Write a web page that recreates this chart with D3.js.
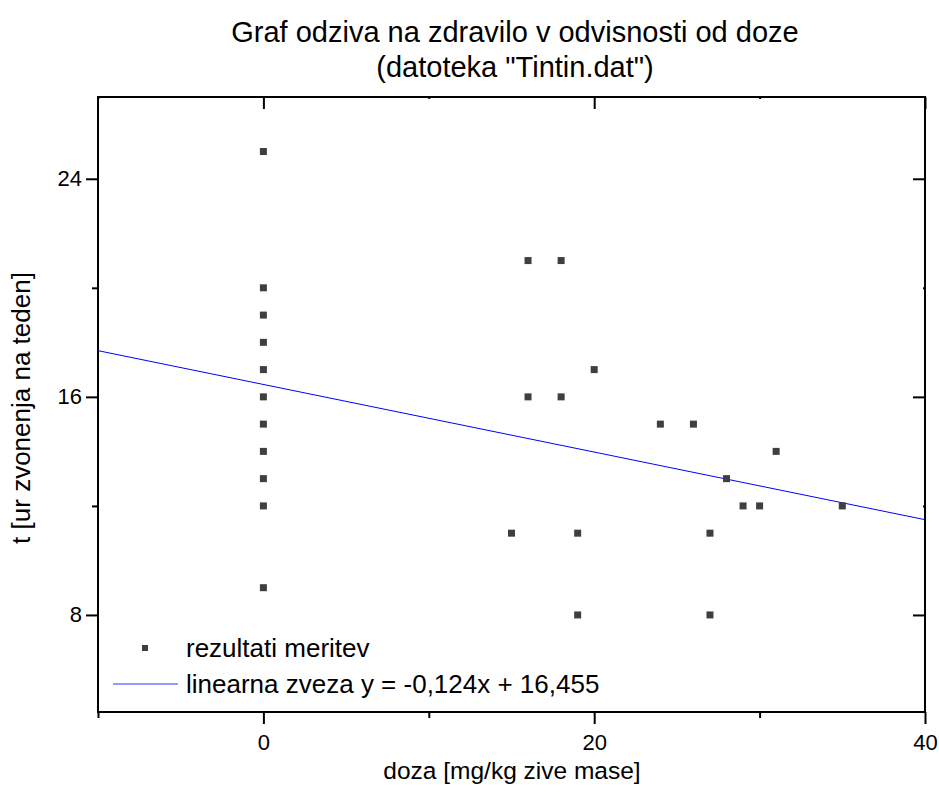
<!DOCTYPE html>
<html>
<head>
<meta charset="utf-8">
<script src="https://cdn.jsdelivr.net/npm/d3@7"></script>
<style>
  body { margin: 0; background: #fff; }
  text { font-family: "Liberation Sans", Arial, sans-serif; fill: #000; }
  .axis path, .axis line { stroke: #000; stroke-width: 2; }
</style>
</head>
<body>
<svg id="chart" width="939" height="803"></svg>
<script>
// data
const doses = [0, 0, 0, 0, 0, 0, 0, 0, 0, 0, 0,
               15, 16, 16, 18, 18, 19, 19, 20, 24, 26, 27, 27, 28, 29, 30, 31, 35];
const hours = [25, 20, 19, 18, 17, 16, 15, 14, 13, 12, 9,
               11, 21, 16, 21, 16, 11, 8, 17, 15, 15, 11, 8, 13, 12, 12, 14, 12];
const fitSlope = -0.124;
const fitIntercept = 16.455;
const xMajor = [0, 20, 40];
const xMinor = [-10, 10, 30];
const yMajor = [8, 16, 24];
const yMinor = [12, 20];
const titleLines = ['Graf odziva na zdravilo v odvisnosti od doze', '(datoteka "Tintin.dat")'];
const legendLabels = ['rezultati meritev', 'linearna zveza y = -0,124x + 16,455'];

const svg = d3.select('#chart');
const margin = {left: 98, right: 14, top: 97, bottom: 91};
const width = 939, height = 803;

const x = d3.scaleLinear().domain([-10, 40]).range([margin.left, width - margin.right]);
const y = d3.scaleLinear().domain([4.44, 27]).range([height - margin.bottom, margin.top]);

const x0 = x.range()[0], x1 = x.range()[1];
const yb = y.range()[0], yt = y.range()[1];

// axes: major ticks, then minor ticks
svg.append('g').attr('class', 'axis').attr('transform', `translate(0,${yb})`)
  .call(d3.axisBottom(x).tickValues(xMajor).tickSize(12).tickPadding(10).tickFormat(d3.format('d')))
  .call(g => g.select('.domain').remove())
  .selectAll('text').style('font-size', '22px');
svg.append('g').attr('class', 'axis').attr('transform', `translate(0,${yb})`)
  .call(d3.axisBottom(x).tickValues(xMinor).tickSize(6).tickFormat(''))
  .call(g => g.select('.domain').remove());

svg.append('g').attr('class', 'axis').attr('transform', `translate(${x0},0)`)
  .call(d3.axisLeft(y).tickValues(yMajor).tickSize(12).tickPadding(4).tickFormat(d3.format('d')))
  .call(g => g.select('.domain').remove())
  .selectAll('text').style('font-size', '22px');
svg.append('g').attr('class', 'axis').attr('transform', `translate(${x0},0)`)
  .call(d3.axisLeft(y).tickValues(yMinor).tickSize(6).tickFormat(''))
  .call(g => g.select('.domain').remove());

// top and right: ticks pointing inward
svg.append('g').attr('class', 'axis').attr('transform', `translate(0,${yt})`)
  .call(d3.axisTop(x).tickValues(xMajor).tickSize(-12).tickFormat(''))
  .call(g => g.select('.domain').remove());
svg.append('g').attr('class', 'axis').attr('transform', `translate(0,${yt})`)
  .call(d3.axisTop(x).tickValues(xMinor).tickSize(-2).tickFormat(''))
  .call(g => g.select('.domain').remove());
svg.append('g').attr('class', 'axis').attr('transform', `translate(${x1},0)`)
  .call(d3.axisRight(y).tickValues(yMajor).tickSize(-12).tickFormat(''))
  .call(g => g.select('.domain').remove());
svg.append('g').attr('class', 'axis').attr('transform', `translate(${x1},0)`)
  .call(d3.axisRight(y).tickValues(yMinor).tickSize(-2).tickFormat(''))
  .call(g => g.select('.domain').remove());

// frame
svg.append('rect')
  .attr('x', x0).attr('y', yt)
  .attr('width', x1 - x0).attr('height', yb - yt)
  .attr('fill', 'none').attr('stroke', '#000').attr('stroke-width', 2);

// fit line
const fitX = x.domain();
svg.append('line')
  .attr('x1', x(fitX[0])).attr('y1', y(fitIntercept + fitSlope * fitX[0]))
  .attr('x2', x(fitX[1])).attr('y2', y(fitIntercept + fitSlope * fitX[1]))
  .attr('stroke', '#0000ff').attr('stroke-width', 1);

// points
const pts = doses.map((d, i) => ({dose: d, t: hours[i]}));
const ms = 7;
svg.selectAll('rect.pt')
  .data(pts)
  .enter()
  .append('rect')
  .attr('class', 'pt')
  .attr('x', d => x(d.dose) - ms / 2)
  .attr('y', d => y(d.t) - ms / 2)
  .attr('width', ms).attr('height', ms)
  .attr('fill', '#3f3f3f');

// legend
svg.append('rect')
  .attr('x', 142).attr('y', 645).attr('width', 6).attr('height', 6)
  .attr('fill', '#3f3f3f');
svg.append('line')
  .attr('x1', 113).attr('x2', 178).attr('y1', 684).attr('y2', 684)
  .attr('stroke', '#3333ff').attr('stroke-width', 1.2);
svg.selectAll('text.leg')
  .data(legendLabels)
  .enter()
  .append('text')
  .attr('class', 'leg')
  .attr('x', 186)
  .attr('y', (d, i) => 657 + i * 36)
  .style('font-size', '26px')
  .text(d => d);

// title
svg.selectAll('text.title')
  .data(titleLines)
  .enter()
  .append('text')
  .attr('class', 'title')
  .attr('x', 515)
  .attr('y', (d, i) => 42 + i * 35)
  .attr('text-anchor', 'middle')
  .style('font-size', '29px')
  .text(d => d);

// axis titles
svg.append('text')
  .attr('x', 512).attr('y', 779)
  .attr('text-anchor', 'middle')
  .style('font-size', '24.5px')
  .text('doza [mg/kg zive mase]');
svg.append('text')
  .attr('transform', 'translate(30,408) rotate(-90)')
  .attr('text-anchor', 'middle')
  .style('font-size', '26px')
  .text('t [ur zvonenja na teden]');
</script>
</body>
</html>
